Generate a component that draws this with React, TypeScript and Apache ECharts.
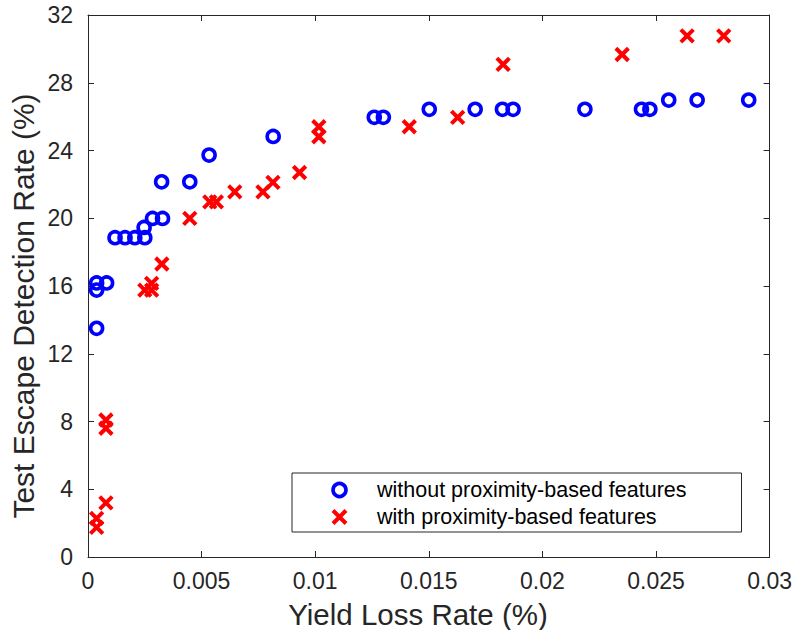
import React, { useEffect, useRef } from "react";
import * as echarts from "echarts";

const xTickInterval = 0.005;
const yTickInterval = 4;

const withoutX = [0.00038, 0.00038, 0.00038, 0.00082, 0.00119, 0.00163, 0.00206, 0.0025, 0.00247, 0.00284, 0.00328, 0.00324, 0.00448, 0.00533, 0.00815, 0.0126, 0.013, 0.01502, 0.01704, 0.01824, 0.01871, 0.02187, 0.02436, 0.02473, 0.02556, 0.02681, 0.02908];
const withoutY = [13.5, 15.76, 16.18, 16.18, 18.85, 18.85, 18.85, 18.85, 19.46, 19.99, 19.99, 22.15, 22.15, 23.73, 24.83, 25.96, 25.96, 26.43, 26.43, 26.43, 26.43, 26.43, 26.43, 26.43, 26.98, 26.98, 26.98];

const withX = [0.00038, 0.00038, 0.00079, 0.00079, 0.00079, 0.0025, 0.0028, 0.0028, 0.00325, 0.00448, 0.00536, 0.00565, 0.00646, 0.0077, 0.00814, 0.00931, 0.01016, 0.01016, 0.01414, 0.01627, 0.01827, 0.02351, 0.02637, 0.02798];
const withY = [1.75, 2.28, 3.2, 7.6, 8.09, 15.76, 15.76, 16.16, 17.3, 19.99, 20.97, 20.97, 21.56, 21.56, 22.12, 22.7, 24.81, 25.4, 25.4, 25.96, 29.08, 29.67, 30.77, 30.77];

const seriesNames = ["without proximity-based features", "with proximity-based features"];
const xTitle = "Yield Loss Rate (%)";
const yTitle = "Test Escape Detection Rate (%)";

const FONT = "'Liberation Sans', Arial, Helvetica, sans-serif";
const AXIS_COLOR = "#262626";
const BLUE = "#0000ff";
const RED = "#ff0000";

function zip(xs: number[], ys: number[]) {
  return xs.map((x, i) => [x, ys[i]]);
}

export default function App() {
  const ref = useRef<HTMLDivElement>(null);
  useEffect(() => {
    if (!ref.current) return;
    const chart = echarts.init(ref.current, null, { renderer: "svg" });
    const axisCommon = {
      axisLine: { show: true, onZero: false, lineStyle: { color: AXIS_COLOR, width: 1 } },
      axisTick: { show: true, inside: true, length: 6, lineStyle: { color: AXIS_COLOR, width: 1 } },
      splitLine: { show: false },
    };
    const fmtX = (v: number) => String(parseFloat(v.toFixed(4)));
    chart.setOption({
      animation: false,
      backgroundColor: "#ffffff",
      grid: { left: 88, right: 24, top: 15, bottom: 73, containLabel: false },
      xAxis: [
        {
          type: "value",
          min: 0,
          max: 0.03,
          interval: xTickInterval,
          position: "bottom",
          ...axisCommon,
          axisLabel: { show: true, margin: 12, color: AXIS_COLOR, fontSize: 23, fontFamily: FONT, formatter: fmtX },
        },
        {
          type: "value",
          min: 0,
          max: 0.03,
          interval: xTickInterval,
          position: "top",
          ...axisCommon,
          axisLabel: { show: false },
        },
      ],
      yAxis: [
        {
          type: "value",
          min: 0,
          max: 32,
          interval: yTickInterval,
          position: "left",
          ...axisCommon,
          axisLabel: { show: true, margin: 15, color: AXIS_COLOR, fontSize: 23, fontFamily: FONT },
        },
        {
          type: "value",
          min: 0,
          max: 32,
          interval: yTickInterval,
          position: "right",
          ...axisCommon,
          axisLabel: { show: false },
        },
      ],
      legend: {
        orient: "vertical",
        left: 292,
        top: 473,
        padding: [6, 55, 4, 39],
        itemWidth: 13,
        itemHeight: 13,
        itemGap: 5,
        backgroundColor: "#ffffff",
        borderColor: AXIS_COLOR,
        borderWidth: 1,
        textStyle: { color: "#000", fontSize: 21.5, fontFamily: FONT, padding: [0, 0, 0, 26], lineHeight: 22 },
        data: [
          { name: seriesNames[0], itemStyle: { color: "rgba(255,255,255,0)", borderColor: BLUE, borderWidth: 3.6 } },
          { name: seriesNames[1], itemStyle: { color: "rgba(255,255,255,0)", borderColor: RED, borderWidth: 4 } },
        ],
      },
      series: [
        {
          name: seriesNames[0],
          type: "scatter",
          xAxisIndex: 0,
          yAxisIndex: 0,
          symbol: "circle",
          symbolSize: 12,
          itemStyle: { color: "rgba(255,255,255,0)", borderColor: BLUE, borderWidth: 3.6, opacity: 1 },
          data: zip(withoutX, withoutY),
          z: 2,
        },
        {
          name: seriesNames[1],
          type: "scatter",
          xAxisIndex: 0,
          yAxisIndex: 0,
          symbol: "path://M0,0L10,10M10,0L0,10",
          symbolSize: 12.5,
          itemStyle: { color: "rgba(255,255,255,0)", borderColor: RED, borderWidth: 4, opacity: 1 },
          data: zip(withX, withY),
          z: 3,
        },
      ],
      graphic: [
        {
          type: "text",
          x: 418,
          y: 614,
          style: { text: xTitle, fill: AXIS_COLOR, fontSize: 29.5, fontFamily: FONT, align: "center", verticalAlign: "middle" },
        },
        {
          type: "text",
          x: 23,
          y: 306,
          rotation: Math.PI / 2,
          style: { text: yTitle, fill: AXIS_COLOR, fontSize: 30, fontFamily: FONT, align: "center", verticalAlign: "middle" },
        },
      ],
    });
    return () => chart.dispose();
  }, []);
  return <div ref={ref} style={{ width: 795, height: 630, position: "absolute", left: 0, top: 0 }} />;
}
